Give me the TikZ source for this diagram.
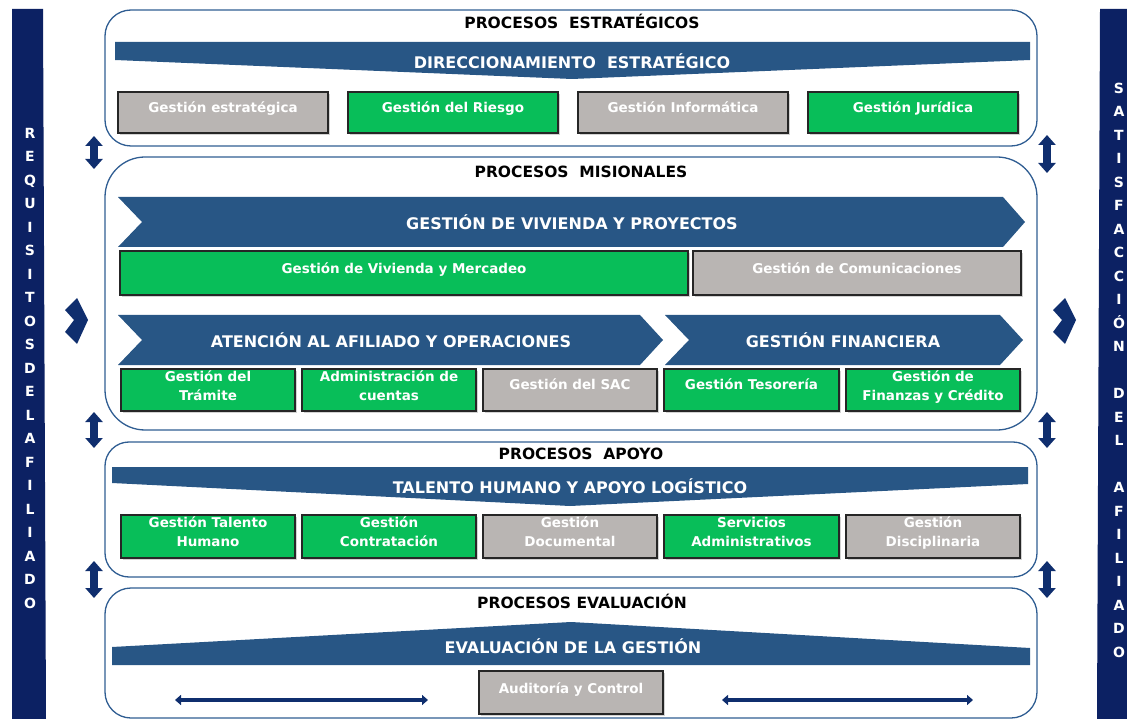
\documentclass[tikz,border=0pt]{standalone}
\usepackage{fontspec}
\setmainfont{DejaVu Sans}
\usetikzlibrary{arrows.meta,shadows}
\definecolor{navybar}{HTML}{0C2163}
\definecolor{bannerblue}{HTML}{285685}
\definecolor{boxgreen}{HTML}{08BE59}
\definecolor{boxgray}{HTML}{B9B5B3}
\definecolor{frameblue}{HTML}{2F5D92}
\definecolor{arrownavy}{HTML}{0F2E6E}
\begin{document}
\begin{tikzpicture}[x=1pt,y=-1pt,
  container/.style={draw=frameblue, line width=1.3pt, inner sep=0pt, outer sep=0pt},
  pbox/.style={draw=black!85, line width=1.6pt, inner sep=0pt, outer sep=0pt,
    drop shadow={shadow xshift=1.5pt, shadow yshift=-2pt, opacity=.35}},
  gbox/.style={pbox, fill=boxgreen},
  ybox/.style={pbox, fill=boxgray},
  btxt/.style={text=white, align=center, inner sep=0pt,
    font=\fontsize{13.5}{19}\selectfont\bfseries},
  title/.style={text=black, inner sep=0pt, font=\fontsize{15.5}{18}\selectfont\bfseries},
  bantxt/.style={text=white, inner sep=0pt, font=\fontsize{16}{19}\selectfont\bfseries},
  banner/.style={fill=bannerblue},
  sidebar/.style={fill=navybar},
  sidetxt/.style={text=white, align=center, inner sep=0pt,
    font=\fontsize{14}{23.5}\selectfont\bfseries},
  vdarrow/.style={draw=arrownavy, line width=8pt,
    {Triangle[width=17pt,length=10pt]}-{Triangle[width=17pt,length=10pt]}},
  hdarrow/.style={draw=arrownavy, line width=4.5pt,
    {Triangle[width=10pt,length=6pt]}-{Triangle[width=10pt,length=6pt]}},
  chev/.style={fill=arrownavy}
]
\useasboundingbox (0,0) rectangle (1127,719);
\clip (0,0) rectangle (1127,719);

% side bars
\fill[sidebar] (12,9) -- (43,9) -- (46,719) -- (12,719) -- cycle;
\fill[sidebar] (1100,9) -- (1127,9) -- (1127,719) -- (1097,719) -- cycle;
\node[sidetxt] (leftword) at (30,368)
  {R\\E\\Q\\U\\I\\S\\I\\T\\O\\S\\D\\E\\L\\A\\F\\I\\L\\I\\A\\D\\O};
\node[sidetxt] (rightword) at (1119,370)
  {S\\A\\T\\I\\S\\F\\A\\C\\C\\I\\Ó\\N\\~\\D\\E\\L\\~\\A\\F\\I\\L\\I\\A\\D\\O};

% chevrons
\fill[chev] (77,298) -- (88,320) -- (77,344) -- (65,332) -- (74,320) -- (65,310) -- cycle;
\fill[chev] (1065,298) -- (1076,320) -- (1065,344) -- (1053,332) -- (1062,320) -- (1053,310) -- cycle;

% containers
\node[container, rounded corners=26pt, minimum width=932, minimum height=136] (strat) at (571,78) {};
\node[container, rounded corners=40pt, minimum width=932, minimum height=273] (misi) at (571,293.5) {};
\node[container, rounded corners=24pt, minimum width=932, minimum height=135] (apoyo) at (571,509.5) {};
\node[container, rounded corners=26pt, minimum width=932, minimum height=130] (evalc) at (571,653) {};

% vertical double arrows
\coordinate (la1) at (94,136); \coordinate (lb1) at (94,169);
\coordinate (la2) at (94,412); \coordinate (lb2) at (94,448);
\coordinate (la3) at (94,561); \coordinate (lb3) at (94,598);
\coordinate (ra1) at (1047,135); \coordinate (rb1) at (1047,173);
\coordinate (ra2) at (1047,412); \coordinate (rb2) at (1047,448);
\coordinate (ra3) at (1047,561); \coordinate (rb3) at (1047,598);
\draw[vdarrow] (la1) -- (lb1);
\draw[vdarrow] (la2) -- (lb2);
\draw[vdarrow] (la3) -- (lb3);
\draw[vdarrow] (ra1) -- (rb1);
\draw[vdarrow] (ra2) -- (rb2);
\draw[vdarrow] (ra3) -- (rb3);

% ---------- Estrategicos
\node[title] (t1) at (582,21) {PROCESOS~ ESTRATÉGICOS};
\fill[banner] (115,42) -- (1030,42) -- (1030,60) -- (572,79) -- (115,60) -- cycle;
\node[bantxt] (b1) at (572,61) {DIRECCIONAMIENTO~ ESTRATÉGICO};
\node[ybox, minimum width=210, minimum height=41] (s1) at (223,112.5) {};
\node[gbox, minimum width=210, minimum height=41] (s2) at (453,112.5) {};
\node[ybox, minimum width=210, minimum height=41] (s3) at (683,112.5) {};
\node[gbox, minimum width=210, minimum height=41] (s4) at (913,112.5) {};
\node[btxt] (s1t) at (223,109) {\strut Gestión estratégica};
\node[btxt] (s2t) at (453,109) {\strut Gestión del Riesgo};
\node[btxt] (s3t) at (683,109) {\strut Gestión Informática};
\node[btxt] (s4t) at (913,109) {\strut Gestión Jurídica};

% ---------- Misionales
\node[title] (t2) at (581,172) {PROCESOS~ MISIONALES};
\fill[banner] (118,197) -- (1003,197) -- (1025,222) -- (1003,247) -- (118,247) -- (142,222) -- cycle;
\node[bantxt] (b2) at (572,222) {GESTIÓN DE VIVIENDA Y PROYECTOS};
\node[gbox, minimum width=568, minimum height=44] (m1) at (404,273) {};
\node[ybox, minimum width=328, minimum height=44] (m2) at (857,273) {};
\node[btxt] (m1t) at (404,270) {\strut Gestión de Vivienda y Mercadeo};
\node[btxt] (m2t) at (857,270) {\strut Gestión de Comunicaciones};

\fill[banner] (118,315) -- (640,315) -- (663,340) -- (640,365) -- (118,365) -- (142,340) -- cycle;
\node[bantxt] (b3) at (391,340) {ATENCIÓN AL AFILIADO Y OPERACIONES};
\fill[banner] (665,315) -- (1000,315) -- (1023,340) -- (1000,365) -- (665,365) -- (689,340) -- cycle;
\node[bantxt] (b4) at (843,340) {GESTIÓN FINANCIERA};

\node[gbox, minimum width=174, minimum height=42] (m3) at (208,390) {};
\node[gbox, minimum width=174, minimum height=42] (m4) at (389,390) {};
\node[ybox, minimum width=174, minimum height=42] (m5) at (570,390) {};
\node[gbox, minimum width=175, minimum height=42] (m6) at (751.5,390) {};
\node[gbox, minimum width=174, minimum height=42] (m7) at (933,390) {};
\node[btxt] (m3t) at (208,387.5) {\strut Gestión del\\\strut Trámite};
\node[btxt] (m4t) at (389,387.5) {\strut Administración de\\\strut cuentas};
\node[btxt] (m5t) at (570,386) {\strut Gestión del SAC};
\node[btxt] (m6t) at (751.5,386) {\strut Gestión Tesorería};
\node[btxt] (m7t) at (933,387.5) {\strut Gestión de\\\strut Finanzas y Crédito};

% ---------- Apoyo
\node[title] (t3) at (581,454) {PROCESOS~ APOYO};
\fill[banner] (112,467) -- (1028,467) -- (1028,484) -- (570,506) -- (112,483) -- cycle;
\node[bantxt] (b5) at (570,486) {TALENTO HUMANO Y APOYO LOGÍSTICO};
\node[gbox, minimum width=174, minimum height=43] (a1) at (208,536.5) {};
\node[gbox, minimum width=174, minimum height=43] (a2) at (389,536.5) {};
\node[ybox, minimum width=174, minimum height=43] (a3) at (570,536.5) {};
\node[gbox, minimum width=175, minimum height=43] (a4) at (751.5,536.5) {};
\node[ybox, minimum width=174, minimum height=43] (a5) at (933,536.5) {};
\node[btxt] (a1t) at (208,533.5) {\strut Gestión Talento\\\strut Humano};
\node[btxt] (a2t) at (389,533.5) {\strut Gestión\\\strut Contratación};
\node[btxt] (a3t) at (570,533.5) {\strut Gestión\\\strut Documental};
\node[btxt] (a4t) at (751.5,533.5) {\strut Servicios\\\strut Administrativos};
\node[btxt] (a5t) at (933,533.5) {\strut Gestión\\\strut Disciplinaria};

% ---------- Evaluacion
\node[title] (t4) at (582,601) {PROCESOS EVALUACIÓN};
\fill[banner] (112,647) -- (571,622) -- (1030,648) -- (1030,665) -- (112,665) -- cycle;
\node[bantxt] (b6) at (573,646) {EVALUACIÓN DE LA GESTIÓN};
\node[ybox, minimum width=184, minimum height=43] (e1) at (571,692.5) {};
\node[btxt] (e1t) at (571,690) {\strut Auditoría y Control};
\coordinate (h1a) at (175,700); \coordinate (h1b) at (428,700);
\coordinate (h2a) at (722,700); \coordinate (h2b) at (973,700);
\draw[hdarrow] (h1a) -- (h1b);
\draw[hdarrow] (h2a) -- (h2b);
\end{tikzpicture}
\end{document}
